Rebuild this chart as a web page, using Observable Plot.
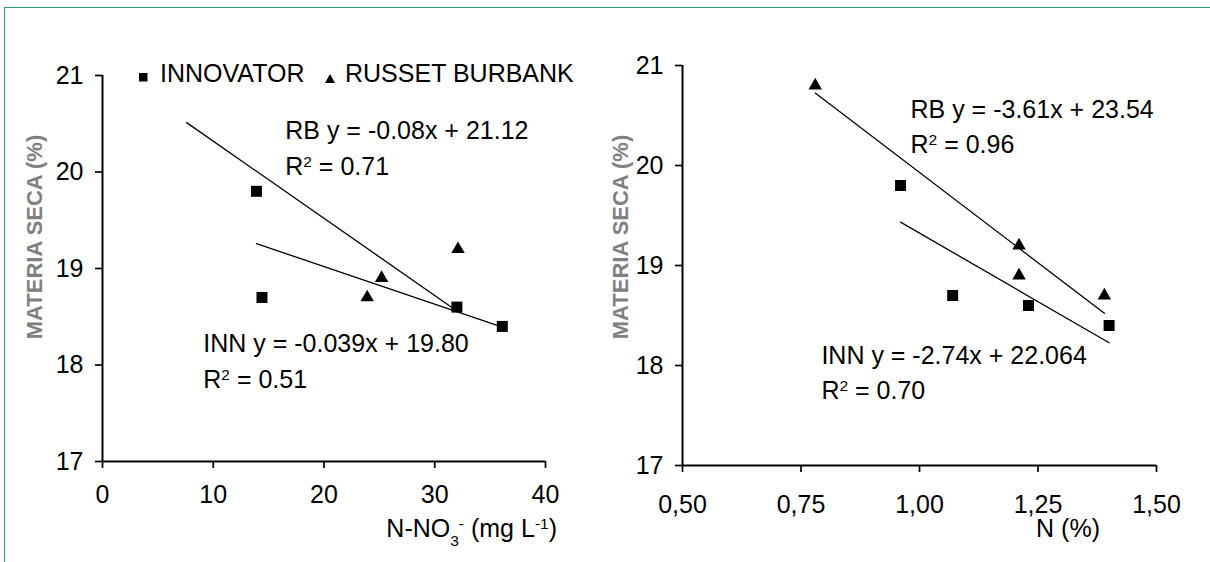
<!DOCTYPE html>
<html><head><meta charset="utf-8">
<script src="https://cdn.jsdelivr.net/npm/d3@7"></script>
<script src="https://cdn.jsdelivr.net/npm/@observablehq/plot@0.6"></script>
<style>
body{margin:0;background:#fff;}
#wrap{position:relative;width:1210px;height:562px;overflow:hidden;font-family:"Liberation Sans",Arial,sans-serif;background:#fff;}
#border{position:absolute;left:4px;top:7px;width:1300px;height:700px;border-top:1.5px solid #2f9a78;border-left:1.5px solid #2f9a78;}
.panel{position:absolute;top:0;}
.lg{position:absolute;font-size:25px;line-height:25px;color:#000;white-space:nowrap;}
</style></head><body>
<div id="wrap">
  <div id="border"></div>
  <div id="left" class="panel" style="left:0"></div>
  <div id="right" class="panel" style="left:605px"></div>
  <div id="legend"></div>
</div>
<script>
// ---------- data ----------
const cultivars = ["INNOVATOR", "RUSSET BURBANK"];
const yTicks = [17, 18, 19, 20, 21];

// Panel A: N-NO3 (mg/L) vs materia seca (%)
const xTicksA = [0, 10, 20, 30, 40];
const nitrateInn = [13.9, 14.4, 32.0, 36.1];
const dryInnA   = [19.8, 18.7, 18.6, 18.4];
const nitrateRb = [23.9, 25.2, 32.1];
const dryRbA    = [18.7, 18.9, 19.2];
const fitNamesA = ["RB", "INN"];
const fitSlopeA = [-0.08, -0.039];
const fitInterA = [21.12, 19.80];
const fitFromA  = [7.6, 13.9];
const fitToA    = [32.0, 36.1];
const notesA    = ["RB y = -0.08x + 21.12", "R^{2} = 0.71", "INN y = -0.039x + 19.80", "R^{2} = 0.51"];
const noteXA    = [16.5, 16.5, 9.1, 9.1];
const noteYA    = [20.43, 20.05, 18.22, 17.84];

// Panel B: N (%) vs materia seca (%)
const xTicksB = [0.5, 0.75, 1.0, 1.25, 1.5];
const xTickLabelsB = ["0,50", "0,75", "1,00", "1,25", "1,50"];
const nInn    = [0.96, 1.07, 1.23, 1.40];
const dryInnB = [19.8, 18.7, 18.6, 18.4];
const nRb     = [0.78, 1.21, 1.21, 1.39];
const dryRbB  = [20.8, 19.2, 18.9, 18.7];
const fitNamesB = ["RB", "INN"];
const fitSlopeB = [-3.61, -2.74];
const fitInterB = [23.54, 22.064];
const fitFromB  = [0.78, 0.96];
const fitToB    = [1.39, 1.40];
const notesB    = ["RB y = -3.61x + 23.54", "R^{2} = 0.96", "INN y = -2.74x + 22.064", "R^{2} = 0.70"];
const noteXB    = [0.981, 0.981, 0.793, 0.793];
const noteYB    = [20.56, 20.21, 18.10, 17.75];

const yTitle = "MATERIA SECA (%)";
const xTitleA = "N-NO_{3}^{-} (mg L^{-1})";
const xTitleB = "N (%)";

// ---------- helpers ----------
function rich(node) {
  const t = node.textContent;
  if (!/[\^_]\{/.test(t)) return;
  const parts = t.split(/(\^\{[^}]*\}|_\{[^}]*\})/).filter(s => s.length);
  node.textContent = "";
  const sel = d3.select(node);
  for (const p of parts) {
    if (p.startsWith("^{")) {
      sel.append("tspan").attr("baseline-shift", "super").attr("font-size", "62%").text(p.slice(2, -1));
    } else if (p.startsWith("_{")) {
      sel.append("tspan").attr("baseline-shift", "sub").attr("font-size", "62%").text(p.slice(2, -1));
    } else {
      sel.append("tspan").text(p);
    }
  }
}

const FS = 25;

function panel(o) {
  const inn = o.innX.map((x, i) => ({x, y: o.innY[i]}));
  const rb = o.rbX.map((x, i) => ({x, y: o.rbY[i]}));
  const fits = o.fitNames.flatMap((g, i) => [o.fitFrom[i], o.fitTo[i]].map(x => ({g, x, y: o.fitSlope[i] * x + o.fitInter[i]})));
  const notes = o.notes.map((text, i) => ({text, x: o.noteX[i], y: o.noteY[i]}));
  const svg = Plot.plot({
    width: 605, height: 562,
    marginLeft: o.ml, marginRight: o.mr, marginTop: o.mt, marginBottom: o.mb,
    style: {fontFamily: '"Liberation Sans", Arial, sans-serif', fontSize: FS + "px", color: "#000", background: "transparent", overflow: "visible"},
    x: {domain: o.xDomain},
    y: {domain: [17, 21]},
    marks: [
      Plot.axisX({ticks: o.xTicks, tickFormat: o.xFmt, tickSize: 7, tickPadding: o.xPad, strokeWidth: 1.7, fontSize: FS, label: null}),
      Plot.axisY({ticks: yTicks, tickFormat: d => String(d), tickSize: 7, tickPadding: 12, strokeWidth: 1.7, fontSize: FS, label: null}),
      Plot.ruleY([17], {stroke: "#000", strokeWidth: 2}),
      Plot.ruleX([o.xDomain[0]], {stroke: "#000", strokeWidth: 2}),
      Plot.line(fits, {x: "x", y: "y", z: "g", stroke: "#000", strokeWidth: 1.3}),
      Plot.dot(inn, {x: "x", y: "y", symbol: "square", r: 6.2, fill: "#000", stroke: "none"}),
      Plot.dot(rb, {x: "x", y: "y", symbol: "triangle", r: 5, fill: "#000", stroke: "none"}),
      Plot.text(notes, {x: "x", y: "y", text: "text", textAnchor: "start", fontSize: FS, fill: "#000"})
    ]
  });
  const s = d3.select(svg);
  s.append("text").attr("x", o.xTitleX).attr("y", 537).attr("text-anchor", "end")
    .attr("font-size", FS).attr("fill", "#000").text(o.xTitle);
  s.append("text").attr("transform", `translate(${o.yTitleX},237) rotate(-90)`)
    .attr("text-anchor", "middle").attr("dy", "0.35em").attr("font-size", 22)
    .attr("font-weight", "bold").attr("fill", "#808080").text(yTitle);
  s.selectAll("text").each(function() { rich(this); });
  return svg;
}

document.getElementById("left").append(panel({
  innX: nitrateInn, innY: dryInnA, rbX: nitrateRb, rbY: dryRbA,
  fitNames: fitNamesA, fitSlope: fitSlopeA, fitInter: fitInterA, fitFrom: fitFromA, fitTo: fitToA,
  notes: notesA, noteX: noteXA, noteY: noteYA,
  xDomain: [0, 40], xTicks: xTicksA, xFmt: d => String(d), xPad: 17,
  ml: 102, mr: 60, mt: 75, mb: 101,
  xTitle: xTitleA, xTitleX: 557, yTitleX: 34
}));
document.getElementById("right").append(panel({
  innX: nInn, innY: dryInnB, rbX: nRb, rbY: dryRbB,
  fitNames: fitNamesB, fitSlope: fitSlopeB, fitInter: fitInterB, fitFrom: fitFromB, fitTo: fitToB,
  notes: notesB, noteX: noteXB, noteY: noteYB,
  xDomain: [0.5, 1.5], xTicks: xTicksB, xFmt: d => xTickLabelsB[xTicksB.indexOf(d)], xPad: 23,
  ml: 77, mr: 54, mt: 65, mb: 97,
  xTitle: xTitleB, xTitleX: 495, yTitleX: 15
}));

// ---------- legend ----------
const lg = document.getElementById("legend");
lg.innerHTML = `
<svg style="position:absolute;left:0;top:0" width="600" height="100">
  <rect x="139" y="73" width="8.5" height="8.5" fill="#000"></rect>
  <path d="M330,74 L335,83 L325,83 Z" fill="#000"></path>
</svg>
<div class="lg" style="left:160px;top:61px">${cultivars[0]}</div>
<div class="lg" style="left:345px;top:61px">${cultivars[1]}</div>`;
</script>
</body></html>
